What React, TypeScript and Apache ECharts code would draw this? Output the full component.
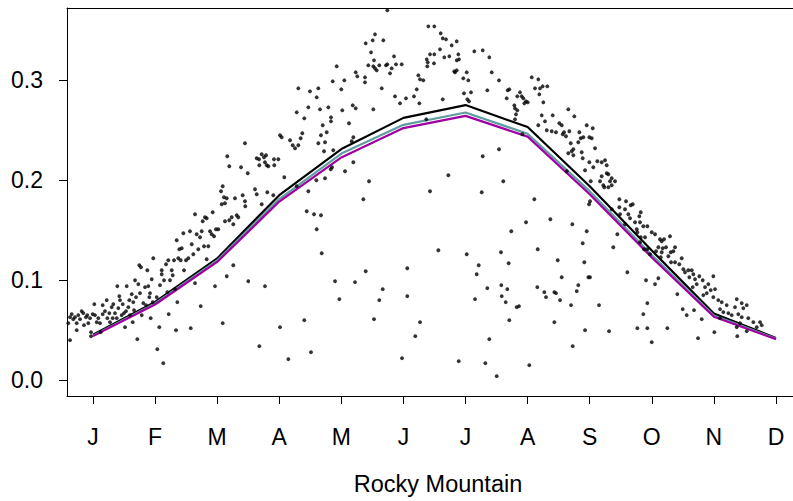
import React, { useEffect, useRef } from "react";
import * as echarts from "echarts";

// Month ticks (x in month units, J = 1 ... D = 12)
const MONTH_LABELS = ["J", "F", "M", "A", "M", "J", "J", "A", "S", "O", "N", "D"];
const MONTH_TICKS = [1, 2, 3, 4, 5, 6, 7, 8, 9, 10, 11, 12];
const Y_TICKS = [0, 0.1, 0.2, 0.3];
const X_MIN = 0.5813;
const X_MAX = 12.274;
const Y_MIN = -0.0158;
const Y_MAX = 0.3723;
const AXIS_TITLE = "Rocky Mountain";

// Monthly curves
const BLACK_LINE = [0.0455, 0.0782, 0.1218, 0.1851, 0.2312, 0.2624, 0.2752, 0.2532, 0.194, 0.1297, 0.0666, 0.0423];
const TEAL_LINE = [0.0446, 0.0767, 0.1198, 0.1812, 0.2267, 0.2554, 0.2678, 0.2465, 0.1891, 0.1252, 0.0648, 0.0416];
const MAGENTA_LINE = [0.0441, 0.0757, 0.1183, 0.1787, 0.2228, 0.2522, 0.2644, 0.2436, 0.186, 0.1228, 0.0634, 0.0411];

// Daily observations [month position, value]
const DAILY_POINTS: [number, number][] = [
  [0.577,0.069],[0.602,0.057],[0.630,0.040],[0.630,0.063],[0.657,0.066],[0.683,0.061],[0.710,0.063],[0.738,0.050],[0.738,0.057],[0.763,0.065],
  [0.791,0.061],[0.818,0.069],[0.844,0.067],[0.855,0.055],[0.887,0.063],[0.908,0.065],[0.924,0.057],[0.952,0.062],[0.968,0.048],[0.968,0.044],
  [0.995,0.066],[1.021,0.076],[1.032,0.065],[1.060,0.058],[1.086,0.062],[1.113,0.057],[1.124,0.048],[1.156,0.066],[1.156,0.075],[1.193,0.069],
  [1.221,0.080],[1.231,0.062],[1.263,0.067],[1.274,0.058],[1.301,0.073],[1.317,0.062],[1.327,0.076],[1.354,0.067],[1.382,0.062],[1.392,0.094],
  [1.408,0.072],[1.424,0.084],[1.435,0.080],[1.462,0.065],[1.479,0.076],[1.499,0.067],[1.516,0.053],[1.532,0.069],[1.543,0.094],[1.569,0.073],
  [1.585,0.080],[1.596,0.065],[1.624,0.086],[1.640,0.058],[1.649,0.078],[1.661,0.070],[1.677,0.100],[1.693,0.083],[1.714,0.041],[1.730,0.096],
  [1.746,0.115],[1.757,0.087],[1.773,0.113],[1.785,0.065],[1.810,0.077],[1.838,0.093],[1.854,0.075],[1.875,0.110],[1.891,0.094],[1.907,0.083],
  [1.918,0.087],[1.929,0.062],[1.946,0.101],[1.962,0.078],[1.971,0.122],[2.026,0.083],[2.036,0.031],[2.068,0.053],[2.079,0.095],[2.107,0.106],
  [2.107,0.110],[2.132,0.017],[2.144,0.100],[2.176,0.116],[2.197,0.088],[2.213,0.120],[2.219,0.066],[2.240,0.100],[2.268,0.110],[2.284,0.105],
  [2.305,0.120],[2.321,0.091],[2.337,0.050],[2.348,0.140],[2.358,0.078],[2.374,0.122],[2.390,0.131],[2.413,0.120],[2.429,0.132],[2.455,0.147],
  [2.466,0.110],[2.498,0.120],[2.535,0.122],[2.562,0.149],[2.574,0.052],[2.590,0.136],[2.616,0.126],[2.643,0.166],[2.643,0.097],[2.670,0.146],
  [2.696,0.131],[2.724,0.143],[2.735,0.074],[2.751,0.149],[2.767,0.159],[2.788,0.134],[2.804,0.163],[2.831,0.121],[2.857,0.134],[2.885,0.149],
  [2.912,0.146],[2.928,0.168],[2.949,0.144],[2.965,0.094],[2.981,0.151],[3.018,0.151],[3.062,0.189],[3.073,0.176],[3.089,0.057],[3.110,0.183],
  [3.126,0.159],[3.154,0.104],[3.154,0.182],[3.195,0.160],[3.234,0.163],[3.260,0.115],[3.287,0.182],[3.315,0.165],[3.340,0.163],[3.411,0.185],
  [3.448,0.179],[3.501,0.099],[3.609,0.191],[3.637,0.186],[3.679,0.034],[3.717,0.176],[3.770,0.094],[3.807,0.188],[3.904,0.185],[4.012,0.053],
  [4.146,0.021],[2.831,0.162],[3.126,0.177],[3.453,0.174],[3.260,0.156],
  [4.307,0.292],[4.281,0.268],[4.173,0.240],[4.217,0.235],[4.254,0.232],[4.307,0.235],[4.012,0.245],[4.039,0.243],[3.448,0.237],[3.163,0.224],
  [3.195,0.214],[3.384,0.213],[3.492,0.207],[3.637,0.222],[3.674,0.221],[3.717,0.226],[3.754,0.223],[3.787,0.225],[3.679,0.215],[3.770,0.218],
  [3.798,0.215],[3.824,0.214],[3.915,0.221],[3.985,0.221],[3.920,0.215],[4.081,0.203],[3.089,0.194],[4.281,0.194],[4.371,0.247],[4.345,0.242],
  [5.740,0.370],[6.401,0.354],[6.497,0.354],[6.600,0.347],[5.542,0.346],[5.505,0.340],[5.392,0.337],[5.676,0.340],[6.633,0.342],[6.686,0.341],
  [6.858,0.339],[6.777,0.335],[6.589,0.331],[5.478,0.328],[6.428,0.326],[6.497,0.326],[6.884,0.326],[6.658,0.323],[6.739,0.324],[5.848,0.324],
  [5.526,0.320],[6.375,0.321],[6.391,0.318],[6.492,0.317],[6.858,0.320],[6.895,0.321],[7.141,0.329],[7.277,0.330],[7.383,0.323],[4.925,0.314],
  [5.434,0.315],[5.515,0.314],[5.569,0.310],[5.542,0.312],[5.611,0.315],[5.719,0.315],[5.740,0.316],[5.880,0.316],[5.972,0.316],[5.811,0.312],
  [5.784,0.307],[6.384,0.314],[6.819,0.309],[6.858,0.310],[6.831,0.308],[7.019,0.308],[7.422,0.308],[5.231,0.308],[5.257,0.304],[5.381,0.303],
  [5.381,0.298],[5.048,0.300],[4.861,0.299],[6.240,0.305],[6.267,0.301],[6.320,0.300],[6.964,0.302],[7.045,0.300],[6.214,0.291],[5.650,0.292],
  [4.999,0.291],[4.629,0.292],[4.495,0.289],[4.603,0.283],[5.864,0.284],[6.041,0.282],[6.170,0.284],[5.945,0.277],[6.256,0.277],[6.633,0.281],
  [6.975,0.287],[7.088,0.288],[7.029,0.281],[7.056,0.279],[7.539,0.300],[7.351,0.290],[7.679,0.290],[7.705,0.291],[7.663,0.282],[7.877,0.288],
  [7.905,0.284],[7.834,0.284],[7.931,0.282],[7.974,0.279],[7.947,0.277],[8.002,0.278],[8.066,0.303],[8.172,0.301],[8.119,0.292],[8.188,0.286],
  [7.797,0.272],[7.786,0.275],[7.834,0.270],[7.813,0.266],[8.172,0.255],[7.797,0.261],[4.468,0.273],[4.656,0.271],[4.790,0.273],[4.403,0.262],
  [4.833,0.263],[4.833,0.259],[4.700,0.255],[5.015,0.270],[5.183,0.275],[5.231,0.272],[5.515,0.271],[5.123,0.257],[4.764,0.248],[4.672,0.245],
  [4.629,0.237],[4.737,0.238],[4.721,0.229],[4.870,0.230],[5.193,0.243],[5.167,0.239],[6.368,0.261],[4.829,0.211],[4.850,0.213],[5.059,0.209],
  [5.193,0.218],[4.597,0.200],[4.737,0.202],[4.468,0.189],[5.446,0.199],[6.428,0.189],[6.723,0.205],[7.277,0.224],[7.539,0.231],[7.608,0.199],
  [7.261,0.188],[7.915,0.246],
  [5.354,0.181],[8.108,0.181],[4.442,0.169],[4.560,0.166],[4.672,0.165],[4.603,0.151],[7.974,0.158],[7.737,0.149],[4.684,0.127],[6.562,0.130],
  [7.019,0.126],[7.571,0.128],[8.163,0.131],[6.062,0.112],[5.392,0.109],[7.212,0.115],[7.695,0.117],[7.180,0.106],[4.898,0.099],[5.220,0.098],
  [5.666,0.091],[7.576,0.095],[7.351,0.092],[7.673,0.091],[8.156,0.093],[4.967,0.081],[5.611,0.080],[6.062,0.084],[7.153,0.081],[7.583,0.084],
  [7.647,0.078],[7.824,0.073],[7.861,0.074],[4.403,0.060],[5.526,0.061],[6.267,0.058],[7.705,0.060],[6.191,0.044],[7.383,0.041],[4.511,0.028],
  [5.977,0.022],[6.890,0.019],[7.319,0.017],[8.027,0.015],[7.502,0.004],
  [8.243,0.294],[8.317,0.294],[8.200,0.292],[8.253,0.278],[8.655,0.271],[8.227,0.265],[8.404,0.265],[8.752,0.264],[8.280,0.259],[8.511,0.257],
  [8.549,0.255],[8.952,0.255],[9.048,0.252],[8.308,0.250],[8.388,0.249],[8.457,0.248],[8.586,0.248],[8.618,0.244],[8.672,0.249],[8.565,0.246],
  [8.833,0.248],[8.855,0.242],[8.897,0.243],[8.994,0.243],[9.032,0.242],[8.694,0.237],[8.816,0.238],[8.736,0.231],[8.710,0.229],[8.655,0.227],
  [8.871,0.228],[9.086,0.232],[8.736,0.225],[8.887,0.222],[8.994,0.218],[9.123,0.219],[9.193,0.218],[9.247,0.220],[9.058,0.213],[9.274,0.215],
  [8.925,0.210],[9.274,0.207],[9.300,0.206],[9.193,0.204],[9.166,0.199],[9.354,0.202],[9.408,0.199],[9.327,0.199],[9.219,0.195],[9.235,0.193],
  [9.300,0.193],[9.354,0.195],[8.630,0.209],[9.016,0.199],
  [9.005,0.179],[8.989,0.176],[9.477,0.181],[9.585,0.179],[9.660,0.175],[9.693,0.176],[9.477,0.173],[9.569,0.171],[9.354,0.171],[9.822,0.168],
  [9.488,0.166],[9.622,0.166],[9.799,0.164],[9.649,0.162],[9.730,0.158],[9.810,0.158],[9.863,0.154],[9.928,0.154],[9.569,0.156],[9.757,0.151],
  [9.767,0.148],[9.822,0.143],[9.891,0.143],[9.999,0.148],[10.052,0.146],[10.132,0.141],[10.160,0.139],[10.197,0.141],[10.293,0.144],[9.810,0.138],
  [9.875,0.131],[9.928,0.131],[9.971,0.126],[10.068,0.129],[10.105,0.133],[10.176,0.132],[10.229,0.133],[10.160,0.128],[10.144,0.123],[10.305,0.128],
  [10.374,0.133],[10.347,0.129],[10.266,0.124],[10.310,0.118],[10.374,0.118],[10.443,0.116],[10.482,0.122],[10.508,0.111],[10.535,0.108],[10.588,0.110],
  [10.643,0.110],[10.669,0.106],[10.604,0.103],[10.696,0.101],[10.765,0.104],[10.820,0.100],[10.723,0.096],[10.659,0.093],[10.857,0.093],[10.910,0.096],
  [10.991,0.104],[10.885,0.087],[10.949,0.090],[11.018,0.091],[10.830,0.085],[10.991,0.083],[11.071,0.080],[11.126,0.078],[11.206,0.075],[11.368,0.081],
  [11.448,0.077],[11.529,0.075],[11.340,0.073],[11.099,0.071],[11.152,0.068],[11.233,0.067],[11.287,0.065],[11.393,0.066],[11.474,0.072],[11.448,0.063],
  [11.554,0.062],[11.635,0.058],[11.743,0.058],[11.770,0.055],[11.690,0.053],[11.529,0.049],[11.368,0.053],[11.421,0.057],[11.099,0.062],[11.007,0.048],
  [11.377,0.044],[10.745,0.042],[10.804,0.061],[10.680,0.070],[10.562,0.065],[10.498,0.071],[10.411,0.086],[10.250,0.052],[10.105,0.102],[10.052,0.096],
  [9.907,0.100],[9.928,0.077],[9.863,0.066],[9.767,0.052],[9.928,0.052],[9.999,0.038],[9.606,0.108],[9.380,0.133],[9.445,0.146],[9.311,0.049],
  [9.150,0.075],[8.925,0.050],[8.726,0.034],[8.699,0.075],[8.791,0.089],[8.816,0.095],[8.978,0.103],[9.005,0.103],[8.913,0.118],[8.887,0.137],
  [8.952,0.149],[8.720,0.156],[8.366,0.161],[8.485,0.120],[8.549,0.103],[8.430,0.088],[8.457,0.087],[8.269,0.088],[8.296,0.083],[8.522,0.080],
  [8.430,0.058],
];

const FONT = "'Liberation Sans', Arial, Helvetica, sans-serif";

function monthly(values: number[]) {
  return MONTH_TICKS.map((m, i) => [m, values[i]]);
}

export default function App() {
  const ref = useRef<HTMLDivElement>(null);
  useEffect(() => {
    if (!ref.current) return;
    const chart = echarts.init(ref.current, undefined, { renderer: "svg" });
    const lineSeries = (data: number[], color: string, width: number) => ({
      type: "line",
      data: monthly(data),
      showSymbol: false,
      symbol: "none",
      lineStyle: { color, width },
      z: 3,
    });
    chart.setOption({
      animation: false,
      backgroundColor: "#fff",
      grid: {
        left: 67,
        top: 8,
        right: 0,
        bottom: 101,
        show: false,
      },
      xAxis: [
        {
          type: "value",
          min: X_MIN,
          max: X_MAX,
          position: "bottom",
          axisLine: { show: true, onZero: false, lineStyle: { color: "#000", width: 1 } },
          axisTick: { show: true, customValues: MONTH_TICKS, length: 8, lineStyle: { color: "#000" } },
          axisLabel: {
            customValues: MONTH_TICKS,
            formatter: (v: number) => MONTH_LABELS[Math.round(v) - 1] ?? "",
            fontSize: 23,
            color: "#000",
            margin: 29,
            fontFamily: FONT,
          },
          splitLine: { show: false },
          name: AXIS_TITLE,
          nameLocation: "middle",
          nameGap: 76,
          nameTextStyle: { fontSize: 23.5, color: "#000", fontFamily: FONT, padding: [0, 0, 0, 16] },
        },
        {
          type: "value",
          min: X_MIN,
          max: X_MAX,
          position: "top",
          axisLine: { show: true, onZero: false, lineStyle: { color: "#000", width: 1 } },
          axisTick: { show: false },
          axisLabel: { show: false },
          splitLine: { show: false },
        },
      ],
      yAxis: {
        type: "value",
        min: Y_MIN,
        max: Y_MAX,
        axisLine: { show: true, onZero: false, lineStyle: { color: "#000", width: 1 } },
        axisTick: { show: true, customValues: Y_TICKS, length: 8, lineStyle: { color: "#000" } },
        axisLabel: {
          customValues: Y_TICKS,
          formatter: (v: number) => v.toFixed(1),
          fontSize: 23,
          color: "#000",
          margin: 24,
          fontFamily: FONT,
        },
        splitLine: { show: false },
      },
      series: [
        {
          type: "scatter",
          data: DAILY_POINTS,
          symbol: "circle",
          symbolSize: 3.8,
          itemStyle: { color: "#000" },
          z: 4,
        },
        lineSeries(BLACK_LINE, "#000000", 2.2),
        lineSeries(TEAL_LINE, "#5F9EA0", 2.2),
        lineSeries(MAGENTA_LINE, "#A000A0", 2.2),
      ],
    });
    return () => chart.dispose();
  }, []);
  return (
    <div
      ref={ref}
      style={{ position: "fixed", left: 0, top: 0, width: 793, height: 501, background: "#fff" }}
    />
  );
}
